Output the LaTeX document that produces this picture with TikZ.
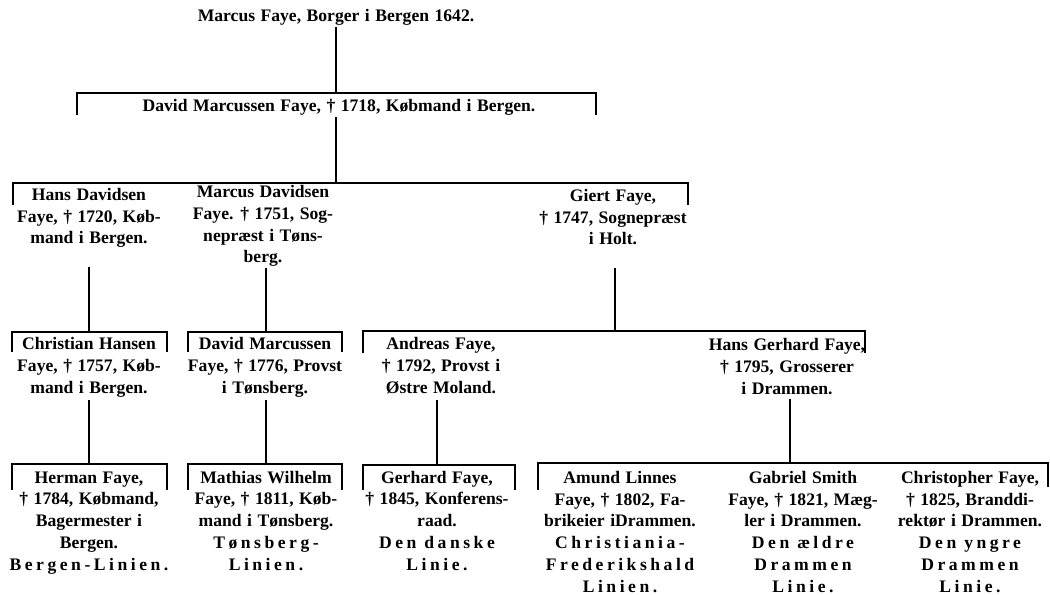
\documentclass[tikz,border=0pt]{standalone}
\usepackage{fontspec}
\setmainfont{Liberation Serif}[WordSpace=1.25]
\newfontfamily\spaced{Liberation Serif}[LetterSpace=20]

\begin{document}
\begin{tikzpicture}[
    x=0.75pt, y=-0.75pt,
    % nodes are placed at the baseline of their last line
    person/.style={align=center, inner sep=0pt, anchor=base, font=\bfseries\fontsize{13.2}{16.3}\selectfont},
    bar/.style={line width=1.6pt},
    stem/.style={line width=2.2pt}
]
\useasboundingbox (0,0) rectangle (1050,595);

% Stamfar
\node (marcus) [person] at (336,22) {Marcus Faye, Borger i Bergen 1642.};
\coordinate (j1) at (336,93);
\draw [stem] (marcus.south -| j1) ++(0,1) -- (j1);
\draw [bar] (77,115) -- (77,93) -- (596,93) -- (596,115);

% Son
\node (david) [person] at (339,112) {David Marcussen Faye, † 1718, Købmand i Bergen.};
\coordinate (j2) at (336,183);
\draw [stem] (david.south -| j2) ++(0,1) -- (j2);
\draw [bar] (13,205) -- (13,183) -- (688,183) -- (688,205);

% Grandsons
\node (hans) [person] at (89,244) {Hans Davidsen\\Faye, † 1720, Køb-\\mand i Bergen.};
\node (marcusd) [person] at (263,263) {Marcus Davidsen\\Faye. † 1751, Sog-\\nepræst i Tøns-\\berg.};
\node (giert) [person] at (613,245) {Giert Faye,\\† 1747, Sognepræst\\i Holt.};

\coordinate (j3a) at (89,332);
\coordinate (j3b) at (266,332);
\coordinate (j3c) at (615,331);
\draw [stem] (hans.south -| j3a) ++(0,19) -- (j3a);
\draw [stem] (marcusd.south -| j3b) ++(0,1) -- (j3b);
\draw [stem] (giert.south -| j3c) ++(0,22) -- (j3c);

\draw [bar] (12,352) -- (12,332) -- (167,332) -- (167,352);
\draw [bar] (188,352) -- (188,332) -- (342,332) -- (342,352);
\draw [bar] (363,353) -- (363,331) -- (865,331) -- (865,353);

% Third generation
\node (christian) [person] at (89,393) {Christian Hansen\\Faye, † 1757, Køb-\\mand i Bergen.};
\node (davidm) [person] at (265,393) {David Marcussen\\Faye, † 1776, Provst\\i Tønsberg.};
\node (andreas) [person] at (441,393) {Andreas Faye,\\† 1792, Provst i\\Østre Moland.};
\node (hansg) [person] at (787,394) {Hans Gerhard Faye,\\† 1795, Grosserer\\i Drammen.};

\coordinate (j4a) at (89,464);
\coordinate (j4b) at (266,464);
\coordinate (j4c) at (437,465);
\coordinate (j4d) at (790,463);
\draw [stem] (christian.south -| j4a) ++(0,3) -- (j4a);
\draw [stem] (davidm.south -| j4b) ++(0,3) -- (j4b);
\draw [stem] (andreas.south -| j4c) ++(0,6) -- (j4c);
\draw [stem] (hansg.south -| j4d) ++(0,4) -- (j4d);

\draw [bar] (12,490) -- (12,464) -- (167,464) -- (167,490);
\draw [bar] (188,490) -- (188,464) -- (342,464) -- (342,490);
\draw [bar] (363,490) -- (363,465) -- (515,465) -- (515,490);
\draw [bar] (538,490) -- (538,463) -- (1048,463) -- (1048,487);

% Lines
\node (herman) [person] at (89,570) {Herman Faye,\\† 1784, Købmand,\\Bagermester i\\Bergen.\\{\spaced Bergen-Linien.}};
\node (mathias) [person] at (266,570) {Mathias Wilhelm\\Faye, † 1811, Køb-\\mand i Tønsberg.\\{\spaced Tønsberg-}\\{\spaced Linien.}};
\node (gerhard) [person] at (437,570) {Gerhard Faye,\\† 1845, Konferens-\\raad.\\{\spaced Den danske}\\{\spaced Linie.}};
\node (amund) [person] at (620,592) {Amund Linnes\\Faye, † 1802, Fa-\\brikeier iDrammen.\\{\spaced Christiania-}\\{\spaced Frederikshald}\\{\spaced Linien.}};
\node (gabriel) [person] at (803,592) {Gabriel Smith\\Faye, † 1821, Mæg-\\ler i Drammen.\\{\spaced Den ældre}\\{\spaced Drammen}\\{\spaced Linie.}};
\node (christopher) [person] at (970,592) {Christopher Faye,\\† 1825, Branddi-\\rektør i Drammen.\\{\spaced Den yngre}\\{\spaced Drammen}\\{\spaced Linie.}};

\end{tikzpicture}
\end{document}
